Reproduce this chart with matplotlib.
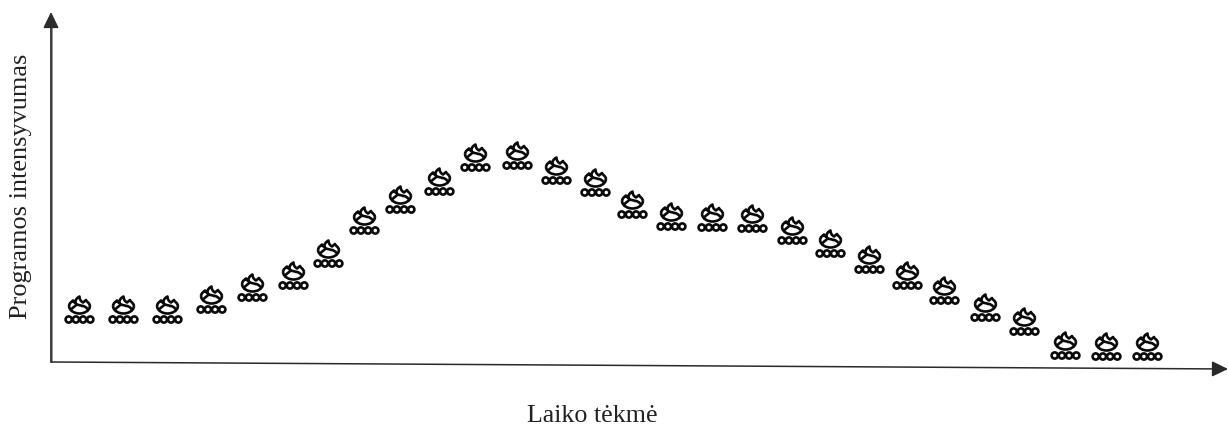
import matplotlib
matplotlib.use("Agg")
import matplotlib.pyplot as plt
from matplotlib.path import Path

# Values (pixels along the time axis, height above the axis)
time_pos = [79, 123, 167, 211, 252, 293, 328, 364, 400, 439, 475, 517, 556, 595,
            632, 671, 712, 752, 792, 830, 869, 907, 944, 985, 1024, 1065, 1106, 1147]
intensity = [43, 43, 43, 53, 65, 77, 99, 132, 153, 171, 195, 197, 182, 170,
             148, 136, 135, 134, 122, 109, 93, 77, 62, 45, 31, 7, 6, 6]
x_label = "Laiko tėkmė"
y_label = "Programos intensyvumas"

plt.rcParams["font.family"] = ["Liberation Serif", "DejaVu Serif"]


def campfire_marker():
    M, C4 = Path.MOVETO, Path.CURVE4
    verts, codes = [], []
    # logs
    for cx in (-10.8, -3.6, 3.6, 10.8):
        c = Path.circle((cx, 0), 3.1)
        verts += list(map(tuple, c.vertices))
        codes += list(c.code_type(x) for x in c.codes)
    # bowl under the flame
    verts += [(-10.5, 13.5), (-10, 8), (-4, 6), (0, 6), (4, 6), (10, 8), (10.5, 13.5)]
    codes += [M, C4, C4, C4, C4, C4, C4]
    # flame
    verts += [(-10.5, 13.5), (-10, 17), (-8, 17.5), (-6.5, 19),
              (-5.5, 17), (-4.5, 16.5), (-4, 16.5),
              (-4.5, 20), (-2, 22), (0, 23),
              (0, 20.5), (1, 18.5), (3.5, 17),
              (4.5, 18), (5.5, 18.5), (6.5, 19.5),
              (7, 17.5), (10, 17), (10.5, 13.5)]
    codes += [M] + [C4] * 18
    # heavy inner stroke
    verts += [(-8, 10.5), (-5.5, 13), (-3.5, 13.5), (-3, 15.5),
              (-1, 14), (1, 14.5), (2.5, 13.5),
              (4, 14), (6.5, 12.5), (8, 10.5)]
    codes += [M] + [C4] * 9
    return Path(verts, codes)


fig = plt.figure(figsize=(12.28, 4.26), dpi=100)
ax = fig.add_axes([0, 0, 1, 1])
ax.set_xlim(0, 1228)
ax.set_ylim(-64, 362)
ax.axis("off")

ax.plot(time_pos, intensity, ls="none", marker=campfire_marker(), ms=33.1,
        mfc="none", mec="#0a0a0a", mew=1.9)

# soft grey body beneath the vertical axis line
ax.plot([51, 51], [0, 340], color="#8a8a8a", lw=2.0, solid_capstyle="butt")

arrow = dict(arrowstyle="-|>,head_length=0.7,head_width=0.34", color="#2a2a2a", lw=1.1,
             shrinkA=0, shrinkB=0, mutation_scale=14)
ax.annotate("", xy=(51, 350), xytext=(51, 0), arrowprops=arrow)
ax.annotate("", xy=(1228, -7), xytext=(51, 0), arrowprops=arrow)

ax.text(592, -54, x_label, ha="center", va="center", fontsize=18.7, color="#222222")
ax.text(21, 176, y_label, ha="center", va="center", rotation=90, fontsize=18.9, color="#222222")

fig.savefig("out.png", dpi=100)
